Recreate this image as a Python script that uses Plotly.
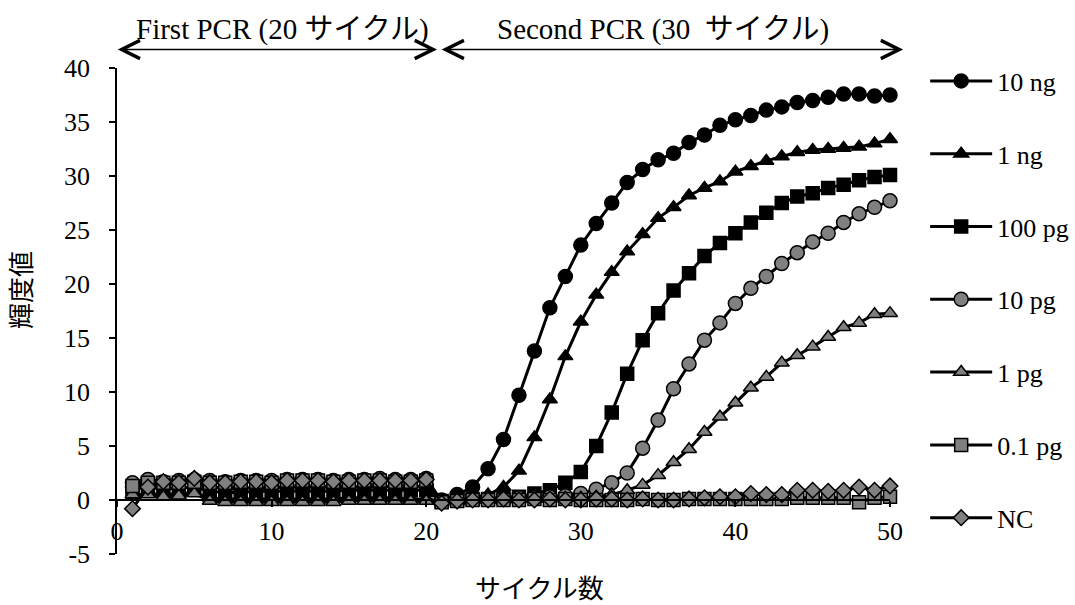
import plotly.graph_objects as go

cycles = list(range(1, 51))

s_10ng = [1.2, 1.5, 1.5, 1.6, 1.6, 1.2, 1.1, 1.1, 1.1, 1.1, 1.2, 1.2, 1.2, 1.2, 1.2, 1.2, 1.3, 1.2, 1.2, 1.3,
          0.0, 0.5, 1.2, 2.9, 5.6, 9.7, 13.8, 17.8, 20.7, 23.6, 25.6, 27.5, 29.4, 30.6, 31.5, 32.1, 33.1, 33.8, 34.7, 35.2,
          35.6, 36.1, 36.4, 36.8, 37.0, 37.3, 37.6, 37.6, 37.4, 37.5]
s_1ng = [0.3, 0.6, 0.5, 0.6, 0.7, 0.2, 0.1, 0.1, 0.1, 0.1, 0.1, 0.1, 0.1, 0.1, 0.2, 0.2, 0.2, 0.2, 0.1, 0.1,
         -0.1, 0.0, 0.2, 0.5, 1.2, 2.7, 5.8, 9.3, 13.3, 16.5, 19.0, 21.1, 23.0, 24.6, 26.1, 27.1, 28.2, 28.9, 29.5, 30.4,
         30.9, 31.4, 31.8, 32.2, 32.4, 32.5, 32.6, 32.7, 33.0, 33.4]
s_100pg = [1.0, 1.2, 1.0, 1.1, 1.2, 0.8, 0.7, 0.7, 0.8, 0.8, 0.8, 0.8, 0.8, 0.8, 0.9, 0.9, 0.9, 0.9, 0.9, 0.9,
           -0.1, 0.0, 0.1, 0.1, 0.2, 0.3, 0.6, 0.9, 1.6, 2.6, 5.0, 8.1, 11.7, 14.8, 17.3, 19.4, 21.0, 22.6, 23.8, 24.7,
           25.7, 26.6, 27.5, 28.1, 28.4, 28.9, 29.2, 29.6, 29.9, 30.1]
s_10pg = [1.6, 1.9, 1.7, 1.8, 1.9, 1.8, 1.7, 1.8, 1.8, 1.8, 1.9, 1.9, 1.9, 1.8, 1.9, 1.9, 2.0, 1.9, 1.9, 2.0,
          -0.1, 0.0, 0.1, 0.1, 0.1, 0.2, 0.2, 0.3, 0.4, 0.6, 1.0, 1.6, 2.5, 4.8, 7.4, 10.3, 12.6, 14.8, 16.4, 18.2,
          19.6, 20.7, 21.9, 22.9, 23.9, 24.7, 25.7, 26.5, 27.1, 27.7]
s_1pg = [0.5, 0.5, 0.3, 0.4, 0.6, -0.1, -0.2, -0.2, -0.2, -0.2, -0.2, -0.2, -0.2, -0.2, -0.1, -0.1, -0.1, -0.1, -0.1, -0.1,
         -0.2, -0.1, 0.0, 0.0, 0.0, 0.1, 0.1, 0.1, 0.2, 0.2, 0.3, 0.5, 0.9, 1.4, 2.3, 3.5, 4.7, 6.3, 7.7, 9.0,
         10.4, 11.4, 12.7, 13.4, 14.2, 15.1, 16.0, 16.4, 17.2, 17.3]
s_01pg = [1.3, 1.6, 1.6, 1.6, 1.7, 1.6, 1.6, 1.7, 1.7, 1.6, 1.8, 1.8, 1.8, 1.7, 1.7, 1.8, 1.8, 1.7, 1.7, 1.8,
          -0.2, -0.1, 0.0, 0.0, 0.0, 0.0, 0.1, 0.0, 0.1, 0.0, 0.0, 0.0, 0.0, 0.1, 0.0, 0.0, 0.1, 0.1, 0.1, 0.1,
          0.1, 0.1, 0.1, 0.2, 0.2, 0.2, 0.2, -0.2, 0.2, 0.3]
s_nc = [-0.8, 1.2, 1.7, 1.6, 2.0, 1.6, 1.6, 1.7, 1.7, 1.6, 1.8, 1.8, 1.8, 1.7, 1.8, 1.8, 1.8, 1.8, 1.8, 1.9,
        -0.3, -0.1, 0.0, 0.0, 0.1, 0.0, 0.0, 0.1, 0.0, 0.0, 0.1, 0.1, 0.0, 0.1, 0.0, 0.0, 0.1, 0.2, 0.3, 0.3,
        0.6, 0.5, 0.5, 0.9, 0.9, 0.8, 0.9, 1.2, 0.9, 1.3]

series_names = ["10 ng", "1 ng", "100 pg", "10 pg", "1 pg", "0.1 pg", "NC"]
series_values = [s_10ng, s_1ng, s_100pg, s_10pg, s_1pg, s_01pg, s_nc]
series_symbols = ["circle", "triangle-up", "square", "circle", "triangle-up", "square", "diamond"]
series_fill = ["#000000", "#000000", "#000000", "#808080", "#808080", "#808080", "#808080"]
series_size = [14, 13, 13, 14, 13, 13, 12]

y_ticks = [-5, 0, 5, 10, 15, 20, 25, 30, 35, 40]
y_ticktext = ["-5", "0", "5", "10", "15", "20", "25", "30", "35", "40"]
x_ticks = [0, 10, 20, 30, 40, 50]

FONT = '"Liberation Serif", "Times New Roman", "Noto Sans CJK JP", serif'

fig = go.Figure()
for i, (name, vals) in enumerate(zip(series_names, series_values)):
    fig.add_trace(go.Scatter(
        x=cycles, y=vals, name=name, mode="lines+markers",
        legendgroup=f"g{i}",
        line=dict(color="#000000", width=3),
        marker=dict(symbol=series_symbols[i], size=series_size[i], color=series_fill[i],
                    line=dict(color="#000000", width=1.5)),
        cliponaxis=False,
    ))

fig.update_layout(
    width=1075, height=605,
    margin=dict(l=117, r=185, t=68, b=51, autoexpand=False),
    paper_bgcolor="white", plot_bgcolor="white",
    font=dict(family=FONT, size=26, color="#000000"),
    showlegend=True,
    legend=dict(x=1.0455, xanchor="left", y=0.5237, yanchor="middle",
                font=dict(family=FONT, size=26, color="#000000"),
                tracegroupgap=36, itemwidth=62, bgcolor="rgba(0,0,0,0)", borderwidth=0),
    xaxis=dict(range=[0, 50], tickvals=x_ticks, showgrid=False, zeroline=False,
               showline=True, linecolor="#000000", linewidth=1.5,
               ticks="outside", ticklen=6, tickwidth=1.5, tickcolor="#000000",
               anchor="free", position=5 / 45, ticklabelstandoff=2,
               tickfont=dict(family=FONT, size=26, color="#000000")),
    yaxis=dict(range=[-5, 40], tickvals=y_ticks, ticktext=y_ticktext, showgrid=False, zeroline=False,
               showline=True, linecolor="#000000", linewidth=1.5,
               ticks="outside", ticklen=6, tickwidth=1.5, tickcolor="#000000",
               ticklabelstandoff=14,
               tickfont=dict(family=FONT, size=26, color="#000000")),
)

# axis titles
fig.add_annotation(text="サイクル数", xref="paper", yref="paper", x=0.546, y=-0.074,
                   showarrow=False, font=dict(family=FONT, size=26), xanchor="center", yanchor="middle")
fig.add_annotation(text="輝度値", xref="paper", yref="paper", x=-0.123, y=0.543, textangle=-90,
                   showarrow=False, font=dict(family=FONT, size=26), xanchor="center", yanchor="middle")

# phase arrows
for (x0, x1) in [(-0.001, 0.414), (0.418, 1.017)]:
    fig.add_annotation(x=x1, y=1.038, ax=x0, ay=1.038,
                       xref="x domain", yref="y domain", axref="x domain", ayref="y domain",
                       text="", showarrow=True, arrowhead=5, startarrowhead=5, arrowside="end+start",
                       arrowsize=2.4, startarrowsize=2.4, arrowwidth=1.5, arrowcolor="#000000",
                       standoff=0, startstandoff=0)

fig.add_annotation(text="First PCR (20 サイクル)", xref="paper", yref="paper", x=0.2147, y=1.079,
                   showarrow=False, font=dict(family=FONT, size=29), xanchor="center", yanchor="middle")
fig.add_annotation(text="Second PCR (30\u00a0 サイクル)", xref="paper", yref="paper", x=0.706, y=1.079,
                   showarrow=False, font=dict(family=FONT, size=29), xanchor="center", yanchor="middle")

fig.write_html("out.html")
